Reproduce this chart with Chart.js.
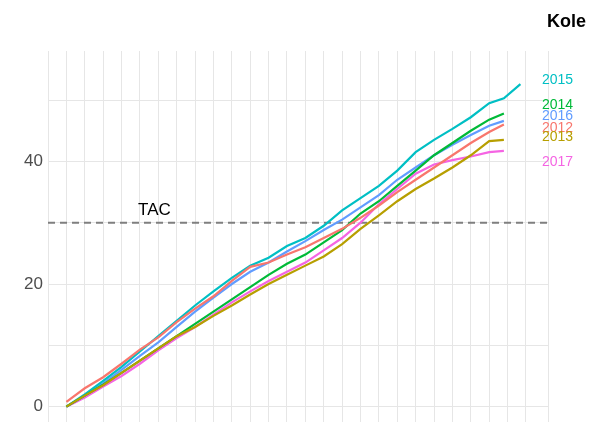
<!DOCTYPE html>
<html><head><meta charset="utf-8">
<script src="https://cdn.jsdelivr.net/npm/chart.js@4"></script>
<style>html,body{margin:0;padding:0;background:#fff}#w{width:597px;height:425px}</style>
</head><body><div id="w"><canvas id="c"></canvas></div>
<script>
const weeks = [0,1,2,3,4,5,6,7,8,9,10,11,12,13,14,15,16,17,18,19,20,21,22,23,23.8];
const years = ['2012','2013','2014','2015','2016','2017'];
const s2012 = [0.8,3,4.8,7,9.3,11.3,13.8,16,18,20.5,22.8,23.5,24.8,26,27.5,29,30.8,32.8,35,37,39,41,43,44.8,46];
const s2013 = [0,1.8,3.5,5.5,7.5,9.5,11.5,13,14.8,16.5,18.3,20,21.5,23,24.5,26.5,29,31.2,33.5,35.5,37.2,39,41,43.3,43.5];
const s2014 = [0,1.8,3.6,5.5,7.5,9.5,11.5,13.5,15.5,17.5,19.5,21.5,23.3,24.8,26.8,28.8,31.5,33.5,36,38.5,41,43,45,46.8,47.8];
const s2015 = [0,2,4.2,6.5,9,11.5,14,16.5,18.8,21,23,24.3,26.2,27.5,29.5,32,34,36,38.5,41.5,43.5,45.3,47.2,49.5,50.3];
const s2015end = {x:24.7, y:52.6};
const s2016 = [0,1.8,3.8,6,8.3,10.5,13,15.5,17.8,20,22,23.5,25.3,27,28.8,30.5,32.5,34.5,37,39,41,42.7,44.3,45.8,46.6];
const s2017 = [0,1.5,3.3,5,7,9.2,11.2,13,15,17,18.8,20.5,22,23.5,25.5,27.5,30,33,35.5,38,39.5,40.2,40.8,41.5,41.7];
const labelY = [45.5, 44.0, 49.2, 53.2, 47.4, 39.8];
const yTicks = [0,20,40];
const tac = 30;
const colors = ['#F8766D','#B79F00','#00BA38','#00BFC4','#619CFF','#F564E3'];
const series = [s2012,s2013,s2014,s2015,s2016,s2017];
const ds = series.map((s,i)=>{
  const d = s.map((v,j)=>({x:weeks[j],y:v}));
  if (i===3) d.push(s2015end);
  return {label:years[i],data:d,borderColor:colors[i],borderWidth:2.2,pointRadius:0,fill:false,tension:0};
});
ds.push({label:'TAC',data:[{x:-1,y:tac},{x:26.2,y:tac}],borderColor:'#7f7f7f',borderWidth:2,borderDash:[7,5],pointRadius:0});
const extra = {
  id:'extra',
  afterDatasetsDraw(ch){
    const c=ch.ctx, xs=ch.scales.x, ys=ch.scales.y;
    c.save();
    c.font='14px "Liberation Sans", Arial, sans-serif';
    c.textBaseline='middle'; c.textAlign='left';
    years.forEach((y,i)=>{c.fillStyle=colors[i]; c.fillText(y,542,ys.getPixelForValue(labelY[i]));});
    c.fillStyle='#000'; c.font='17px "Liberation Sans", Arial, sans-serif';
    c.textBaseline='alphabetic';
    c.fillText('TAC',xs.getPixelForValue(3.9),ys.getPixelForValue(31.2));
    c.font='bold 18px "Liberation Sans", Arial, sans-serif';
    c.textAlign='right';
    c.fillText('Kole',586,27);
    c.restore();
  }
};
new Chart(document.getElementById('c'),{
  type:'line',
  data:{datasets:ds},
  plugins:[extra],
  options:{
    responsive:true,maintainAspectRatio:false,animation:false,
    layout:{padding:{top:51,bottom:3,right:49,left:0}},
    plugins:{legend:{display:false},tooltip:{enabled:false}},
    scales:{
      x:{type:'linear',min:-1,max:26.2,
        ticks:{display:false,stepSize:1},
        grid:{color:'#e6e6e6',drawTicks:false},border:{display:false},
        afterFit(s){s.height=0;s.paddingLeft=0;s.paddingRight=0;}},
      y:{min:-2.5,max:58,
        afterBuildTicks(s){s.ticks=[0,10,20,30,40,50].map(v=>({value:v}));},
        ticks:{padding:5,color:'#4d4d4d',font:{size:17,family:'"Liberation Sans", Arial, sans-serif'},
          callback:(v)=>yTicks.includes(v)?String(v):''},
        grid:{color:'#e6e6e6',drawTicks:false},border:{display:false},
        afterFit(s){s.width=48;s.paddingTop=0;s.paddingBottom=0;}}
    }
  }
});
</script></body></html>
